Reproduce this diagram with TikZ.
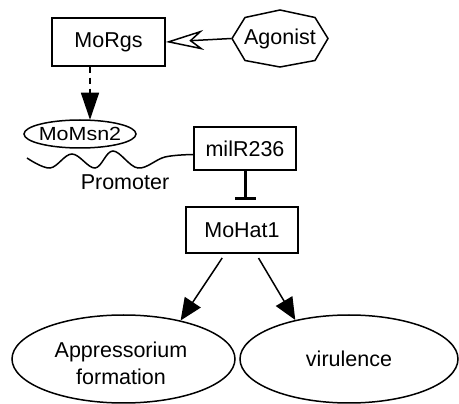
\documentclass[tikz,border=0pt]{standalone}
\usepackage{fontspec}
\setmainfont{Liberation Sans}
\usetikzlibrary{arrows.meta,calc,shapes.geometric}
\begin{document}
\begin{tikzpicture}[x=1pt,y=-1pt,line width=1.5pt,
  every node/.style={font=\fontsize{21.5}{27}\selectfont},
  box/.style={draw,rectangle,inner sep=0pt},
  oval/.style={draw,ellipse,inner sep=0pt},
  plain/.style={inner sep=0pt},
  activates/.style={-{Triangle[length=22pt,width=19pt]}},
  induces/.style={dash pattern=on 6pt off 5pt,-{Triangle[length=27pt,width=18pt]}},
  binds/.style={-{Stealth[open,length=38pt,width=20pt,inset=12pt]}},
  inhibits/.style={line width=3pt,-{Bar[width=21pt]}}]
\useasboundingbox (0,0) rectangle (459,404);

% signalling nodes
\node[box,minimum width=113pt,minimum height=48pt] (morgs) at (108.5,42) {MoRgs};
\node[plain,minimum width=96pt,minimum height=57pt] (ago) at (280,38.5) {Agonist};
\draw ($(ago)+(-48,0)$) -- ($(ago)+(-35,-21)$) -- ($(ago)+(0,-28.5)$)
  -- ($(ago)+(35,-21)$) -- ($(ago)+(48,0)$) -- ($(ago)+(35,22)$)
  -- ($(ago)+(0,28.5)$) -- ($(ago)+(-35,22)$) -- cycle;
\node[oval,inner sep=-5pt,minimum width=112pt,minimum height=28pt] (msn) at (80,134)
  {\fontsize{19}{22}\selectfont\scalebox{1.13}[1]{MoMsn2}};
\node[box,minimum width=102pt,minimum height=43pt] (mir) at (245,148.5) {milR236};
\node[box,minimum width=112pt,minimum height=46pt] (mohat) at (242,230) {MoHat1};
\node[plain] (prom) at (125,182.5) {Promoter};
\node[oval,minimum width=223pt,minimum height=88pt] (app) at (123.5,359) {};
\node[plain,align=center] (apptext) at (121,363) {Appressorium\\formation};
\node[oval,minimum width=218pt,minimum height=88pt] (vir) at (349,359) {virulence};

% promoter strand running into milR236
\coordinate (waveEnd) at ($(mir.west)+(0,6)$);
\draw plot[smooth,tension=0.6] coordinates {(27,158) (50,168) (72,154) (95,168)
  (113,151) (138,168) (165,157) (waveEnd)};

% connectors
\draw[binds] (ago.west) -- (morgs.east);
\draw[induces] ($(morgs.south)+(-18.5,0)$) -- ($(msn.north)+(10,0.5)$);
\coordinate (bar) at ($(mohat.north)+(3,-6)$);
\draw[inhibits] (mir.south) -- (bar);
\draw[activates,shorten <=5pt] ($(mohat.south)+(-17,0)$) -- (app.34);
\draw[activates,shorten <=5pt] ($(mohat.south)+(14,0)$) -- (vir.144);
\end{tikzpicture}
\end{document}
